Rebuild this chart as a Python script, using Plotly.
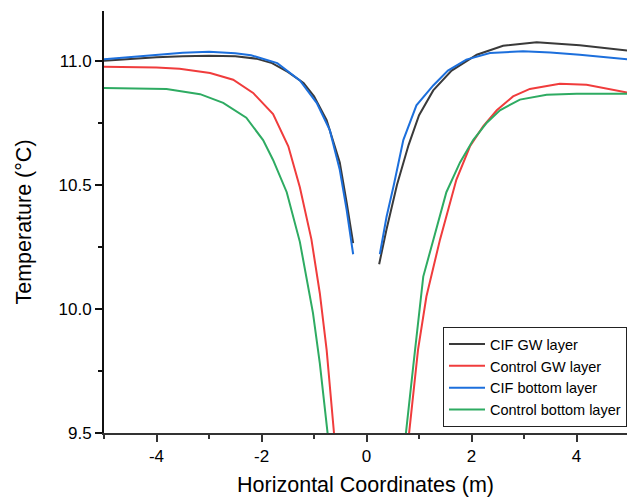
import plotly.graph_objects as go

# Temperature profiles across the horizontal section (gap near x = 0 for the CIF runs)
cif_gw_x = [-5, -4.5, -4, -3.5, -3, -2.5, -2.1, -1.8, -1.5, -1.2, -1.0, -0.76, -0.51, -0.38, -0.255,
            None,
            0.24, 0.38, 0.58, 0.8, 1.0, 1.27, 1.62, 2.1, 2.6, 3.24, 4.06, 5]
cif_gw_y = [11.0, 11.008, 11.014, 11.018, 11.02, 11.018, 11.008, 10.99, 10.955, 10.91, 10.856, 10.76, 10.59, 10.43, 10.265,
            None,
            10.18, 10.32, 10.5, 10.66, 10.78, 10.88, 10.96, 11.024, 11.06, 11.074, 11.062, 11.04]

ctrl_gw_x = [-5, -4, -3.56, -2.98, -2.54, -2.16, -1.78, -1.49, -1.27, -1.05, -0.89, -0.76, -0.62, -0.58,
             None,
             0.76, 0.81, 0.98, 1.14, 1.40, 1.71, 1.97, 2.22, 2.48, 2.79, 3.11, 3.68, 4.19, 5]
ctrl_gw_y = [10.975, 10.972, 10.967, 10.95, 10.923, 10.87, 10.785, 10.655, 10.49, 10.28, 10.063, 9.835, 9.50, 9.4,
             None,
             9.4, 9.5, 9.835, 10.05, 10.28, 10.52, 10.655, 10.735, 10.80, 10.856, 10.886, 10.907, 10.903, 10.87]

cif_bot_x = [-5, -4.5, -4, -3.5, -3, -2.5, -2.2, -1.7, -1.27, -0.95, -0.70, -0.51, -0.38, -0.255,
             None,
             0.253, 0.38, 0.52, 0.7, 0.95, 1.27, 1.55, 1.9, 2.35, 2.98, 3.5, 4.06, 5]
cif_bot_y = [11.006, 11.015, 11.024, 11.032, 11.036, 11.03, 11.022, 10.99, 10.92, 10.83, 10.72, 10.56, 10.40, 10.22,
             None,
             10.22, 10.37, 10.5, 10.68, 10.82, 10.90, 10.96, 11.004, 11.031, 11.038, 11.033, 11.024, 11.005]

ctrl_bot_x = [-5, -3.81, -3.17, -2.73, -2.29, -1.97, -1.78, -1.52, -1.27, -1.02, -0.89, -0.73, -0.70,
              None,
              0.72, 0.75, 0.89, 0.98, 1.08, 1.30, 1.52, 1.78, 2.03, 2.29, 2.54, 2.92, 3.43, 4.0, 5]
ctrl_bot_y = [10.89, 10.886, 10.865, 10.83, 10.77, 10.68, 10.60, 10.47, 10.27, 9.983, 9.78, 9.50, 9.42,
              None,
              9.42, 9.5, 9.77, 9.94, 10.13, 10.30, 10.47, 10.59, 10.68, 10.75, 10.80, 10.843, 10.863, 10.867, 10.867]

series = [
    ("CIF GW layer", cif_gw_x, cif_gw_y, "#3a3a3a"),
    ("Control GW layer", ctrl_gw_x, ctrl_gw_y, "#f03c3c"),
    ("CIF bottom layer", cif_bot_x, cif_bot_y, "#1c6fdc"),
    ("Control bottom layer", ctrl_bot_x, ctrl_bot_y, "#2eab62"),
]

x_ticks = [-4, -2, 0, 2, 4]
x_tick_labels = ["-4", "-2", "0", "2", "4"]
y_ticks = [9.5, 10.0, 10.5, 11.0]
y_tick_labels = ["9.5", "10.0", "10.5", "11.0"]

fig = go.Figure()
for name, xs, ys, color in series:
    fig.add_trace(go.Scatter(x=xs, y=ys, mode="lines", name=name,
                             line=dict(color=color, width=2), connectgaps=False))

font_family = "Liberation Sans, Arial, sans-serif"

fig.update_layout(
    width=627, height=502,
    margin=dict(l=104, r=0, t=11, b=69),
    paper_bgcolor="white", plot_bgcolor="white",
    font=dict(family=font_family, color="#000000"),
    showlegend=True,
    legend=dict(
        x=1, xanchor="right", y=0.014, yanchor="bottom",
        bgcolor="white", bordercolor="#222222", borderwidth=1,
        font=dict(size=14.5, family=font_family, color="#000000"),
        tracegroupgap=0, itemwidth=36,
    ),
    xaxis=dict(
        range=[-5, 4.96], showgrid=False, zeroline=False,
        showline=True, linecolor="#333333", linewidth=2,
        tickvals=x_ticks, ticktext=x_tick_labels,
        ticks="outside", ticklen=7, tickwidth=1.5, tickcolor="#333333",
        tickfont=dict(size=17),
        minor=dict(tickvals=[-5, -3, -1, 1, 3], ticks="outside", ticklen=4, tickwidth=1.5, tickcolor="#333333"),
        title=dict(text="Horizontal Coordinates (m)", font=dict(size=21.5), standoff=12),
    ),
    yaxis=dict(
        range=[9.5, 11.2], showgrid=False, zeroline=False,
        showline=True, linecolor="#111111", linewidth=2,
        tickvals=y_ticks, ticktext=y_tick_labels, ticks="outside", ticklen=7, tickwidth=1.5, tickcolor="#111111",
        tickfont=dict(size=17),
        minor=dict(tickvals=[9.75, 10.25, 10.75], ticks="outside", ticklen=4, tickwidth=1.5, tickcolor="#111111"),
        title=dict(text="Temperature (°C)", font=dict(size=21.5), standoff=21),
    ),
)

fig.write_html("out.html")
